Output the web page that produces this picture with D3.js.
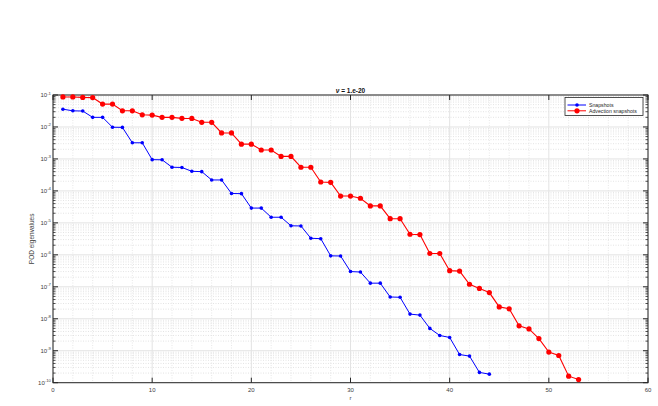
<!DOCTYPE html>
<html>
<head>
<meta charset="utf-8">
<script src="https://cdn.jsdelivr.net/npm/d3@7"></script>
<style>
  body{margin:0;background:#fff;}
  svg{display:block;font-family:"Liberation Sans",Arial,sans-serif;}
</style>
</head>
<body>
<div id="chart"></div>
<script>
// POD eigenvalues
const snapR=d3.range(1,45);
const snapVals=[3.6e-2,3.2e-2,3.15e-2,2.0e-2,2.0e-2,9.8e-3,9.7e-3,3.2e-3,3.2e-3,9.5e-4,
  9.4e-4,5.5e-4,5.4e-4,4.1e-4,4.0e-4,2.2e-4,2.2e-4,8.3e-5,8.2e-5,2.9e-5,
  2.9e-5,1.5e-5,1.5e-5,8.1e-6,8.0e-6,3.3e-6,3.2e-6,9.3e-7,9.2e-7,3.0e-7,
  2.9e-7,1.3e-7,1.3e-7,4.8e-8,4.7e-8,1.4e-8,1.3e-8,5.0e-9,3.0e-9,2.6e-9,
  7.6e-10,6.8e-10,2.1e-10,1.85e-10];
const advR=d3.range(1,54);
const advVals=[8.7e-2,8.7e-2,8.4e-2,8.3e-2,5.2e-2,5.2e-2,3.2e-2,3.2e-2,2.4e-2,2.35e-2,
  2.0e-2,2.0e-2,1.86e-2,1.85e-2,1.4e-2,1.4e-2,6.5e-3,6.5e-3,2.9e-3,2.9e-3,
  1.9e-3,1.9e-3,1.2e-3,1.2e-3,5.5e-4,5.5e-4,1.9e-4,1.85e-4,6.9e-5,6.9e-5,
  5.9e-5,3.4e-5,3.4e-5,1.35e-5,1.35e-5,4.4e-6,4.3e-6,1.1e-6,1.1e-6,3.2e-7,
  3.1e-7,1.2e-7,8.9e-8,6.6e-8,2.35e-8,2.05e-8,6.0e-9,4.8e-9,2.4e-9,9.1e-10,
  7.1e-10,1.6e-10,1.25e-10];
const xTicks=[0,10,20,30,40,50,60];
const yExp=d3.range(-10,0);   // decade ticks 1e-10 .. 1e-1
const seriesNames=['Snapshots','Advection snapshots'];

const W=658,H=406,m={t:95,r:10,b:23.3,l:53};
const w=W-m.l-m.r,h=H-m.t-m.b;
const svg=d3.select('#chart').append('svg').attr('width',W).attr('height',H);
const g=svg.append('g').attr('transform',`translate(${m.l},${m.t})`);
const x=d3.scaleLinear().domain([0,60]).range([0,w]);
const y=d3.scaleLog().domain([1e-10,1e-1]).range([h,0]);

// minor grid (dotted), only inside the decades of the axis
const minorY=[];yExp.slice(0,-1).forEach(e=>{for(let k=2;k<10;k++) minorY.push(k*Math.pow(10,e));});
const minorX=d3.range(0,61,2).filter(v=>v%10);
g.append('g').selectAll('line').data(minorY).join('line')
  .attr('x1',0).attr('x2',w).attr('y1',d=>y(d)).attr('y2',d=>y(d))
  .attr('stroke','#d2d2d2').attr('stroke-width',0.6).attr('stroke-dasharray','1,1.5');
g.append('g').selectAll('line').data(minorX).join('line')
  .attr('y1',0).attr('y2',h).attr('x1',d=>x(d)).attr('x2',d=>x(d))
  .attr('stroke','#d8d8d8').attr('stroke-width',0.6).attr('stroke-dasharray','1,1.5');
// major grid
g.append('g').selectAll('line').data(yExp.map(e=>Math.pow(10,e))).join('line')
  .attr('x1',0).attr('x2',w).attr('y1',d=>y(d)).attr('y2',d=>y(d))
  .attr('stroke','#e3e3e3').attr('stroke-width',1);
g.append('g').selectAll('line').data(xTicks).join('line')
  .attr('y1',0).attr('y2',h).attr('x1',d=>x(d)).attr('x2',d=>x(d))
  .attr('stroke','#e3e3e3').attr('stroke-width',1);

// ticks (inside, both sides)
const tk=g.append('g').attr('stroke','#262626');
xTicks.forEach(v=>{
  tk.append('line').attr('x1',x(v)).attr('x2',x(v)).attr('y1',h).attr('y2',h-5).attr('stroke-width',1);
  tk.append('line').attr('x1',x(v)).attr('x2',x(v)).attr('y1',0).attr('y2',5).attr('stroke-width',1);
});
yExp.forEach(e=>{
  const yy=y(Math.pow(10,e));
  tk.append('line').attr('x1',0).attr('x2',5).attr('y1',yy).attr('y2',yy).attr('stroke-width',1);
  tk.append('line').attr('x1',w).attr('x2',w-5).attr('y1',yy).attr('y2',yy).attr('stroke-width',1);
});
minorY.forEach(v=>{
  const yy=y(v);
  tk.append('line').attr('x1',0).attr('x2',2.5).attr('y1',yy).attr('y2',yy).attr('stroke-width',0.8);
  tk.append('line').attr('x1',w).attr('x2',w-2.5).attr('y1',yy).attr('y2',yy).attr('stroke-width',0.8);
});

// tick labels
g.append('g').selectAll('text').data(xTicks).join('text')
  .attr('x',d=>x(d)).attr('y',h+9.5).attr('text-anchor','middle')
  .attr('font-size',6).attr('fill','#404040').text(d=>d);
const yl=g.append('g').selectAll('text').data(yExp).join('text')
  .attr('x',-2).attr('y',d=>y(Math.pow(10,d))+2).attr('text-anchor','end')
  .attr('font-size',6).attr('fill','#404040');
yl.append('tspan').text('10');
yl.append('tspan').attr('dy',-2.5).attr('font-size',4.3).text(d=>d);

// frame
g.append('rect').attr('width',w).attr('height',h).attr('fill','none').attr('stroke','#262626').attr('stroke-width',1);

// series
const line=d3.line().x(d=>x(d[0])).y(d=>y(d[1]));
const blue=snapR.map((r,i)=>[r,snapVals[i]]);
const red=advR.map((r,i)=>[r,advVals[i]]);
g.append('path').datum(blue).attr('fill','none').attr('stroke','#0000ff').attr('stroke-width',1).attr('d',line);
g.selectAll('.bd').data(blue).join('circle').attr('class','bd')
  .attr('cx',d=>x(d[0])).attr('cy',d=>y(d[1])).attr('r',1.8).attr('fill','#0000ff');
g.append('path').datum(red).attr('fill','none').attr('stroke','#ff0000').attr('stroke-width',1.1).attr('d',line);
g.selectAll('.rd').data(red).join('circle').attr('class','rd')
  .attr('cx',d=>x(d[0])).attr('cy',d=>y(d[1])).attr('r',2.6).attr('fill','#ff0000');

// title & axis labels
const t=svg.append('text').attr('x',m.l+w/2).attr('y',92.5).attr('text-anchor','middle')
  .attr('font-size',6.5).attr('font-weight','bold').attr('fill','#111');
t.append('tspan').attr('font-style','italic').text('ν');
t.append('tspan').text(' = 1.e-20');
svg.append('text').attr('x',m.l+w/2).attr('y',H-6.5).attr('text-anchor','middle')
  .attr('font-size',6).attr('fill','#404040').text('r');
svg.append('text').attr('transform',`translate(34,${m.t+h/2}) rotate(-90)`).attr('text-anchor','middle')
  .attr('font-size',6.5).attr('fill','#404040').text('POD eigenvalues');

// legend
const leg=svg.append('g').attr('transform','translate(565,97.5)');
leg.append('rect').attr('width',78).attr('height',18).attr('fill','#fff').attr('stroke','#262626').attr('stroke-width',0.8);
[['#0000ff',1.8],['#ff0000',2.6]].forEach(([c,r],i)=>{
  const yy=7.5+i*5.8;
  leg.append('line').attr('x1',2.5).attr('x2',21).attr('y1',yy).attr('y2',yy).attr('stroke',c).attr('stroke-width',1);
  leg.append('circle').attr('cx',12).attr('cy',yy).attr('r',r).attr('fill',c);
  leg.append('text').attr('x',24).attr('y',yy+1.8).attr('font-size',5.2).attr('fill','#262626').text(seriesNames[i]);
});
</script>
</body>
</html>
